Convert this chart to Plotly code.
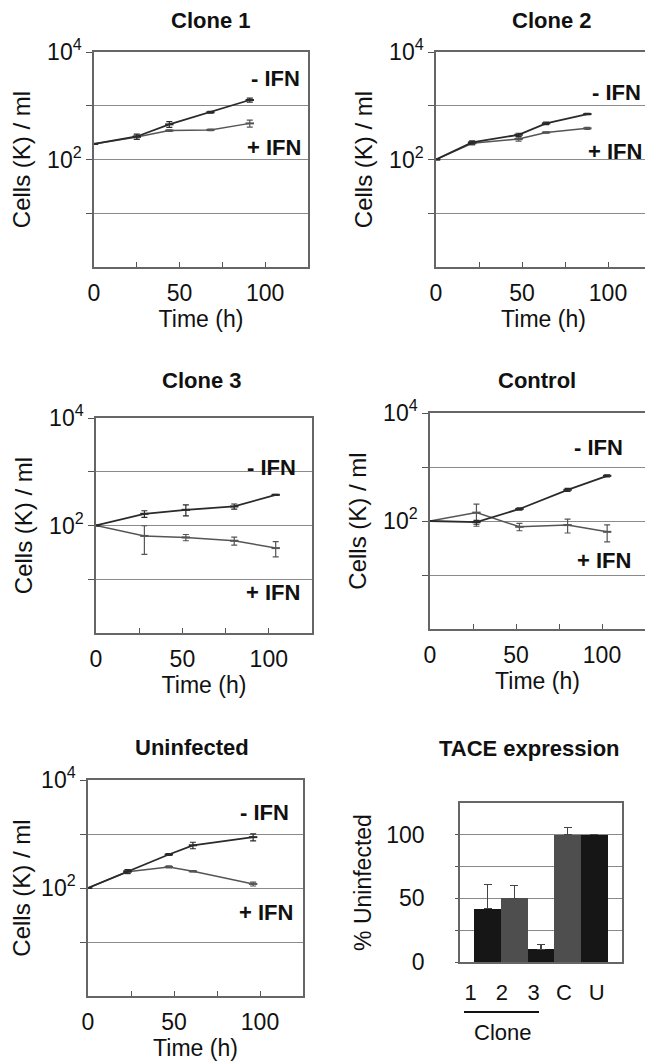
import plotly.graph_objects as go

# page body adds an 8px margin, so the figure is drawn 8px smaller and positions are offset
PAGE_W, PAGE_H = 653, 1061
OFF = 8
W, H = PAGE_W - OFF, PAGE_H - OFF

# ---------------- data ----------------
clone1_t = [0, 25, 44, 68, 91]
clone1_minus = [195, 268, 450, 755, 1280]
clone1_minus_err = [0, 30, 55, 30, 110]
clone1_plus = [195, 262, 345, 355, 470]
clone1_plus_err = [0, 25, 12, 12, 70]

clone2_t = [0, 21, 48, 64, 88]
clone2_minus = [100, 208, 288, 470, 700]
clone2_minus_err = [0, 14, 20, 25, 20]
clone2_plus = [100, 200, 240, 318, 380]
clone2_plus_err = [0, 14, 20, 10, 15]

clone3_t = [0, 28, 52, 80, 104]
clone3_minus = [100, 165, 196, 226, 372]
clone3_minus_err = [0, 23, 45, 25, 8]
clone3_plus = [100, 64, 60, 52, 38]
clone3_plus_err = [0, 35, 8, 9, 12]

control_t = [0, 27, 52, 80, 103]
control_minus = [100, 95, 167, 378, 687]
control_minus_err = [0, 8, 8, 25, 30]
control_plus = [100, 143, 78, 84, 63]
control_plus_err = [0, 63, 12, 24, 22]

uninf_t = [0, 23, 47, 61, 96]
uninf_minus = [100, 204, 417, 618, 875]
uninf_minus_err = [0, 15, 15, 85, 130]
uninf_plus = [100, 200, 246, 204, 119]
uninf_plus_err = [0, 15, 10, 5, 10]

tace_cats = ["1", "2", "3", "C", "U"]
tace_vals = [42, 50, 10, 100, 100]
tace_err = [19, 10, 4, 6, 0]

y_tickvals = [100, 10000]
y_ticktext = ["10<sup>2</sup>", "10<sup>4</sup>"]
y_gridvals = [10, 1000]
x_tickvals = [0, 50, 100]
x_ticktext = ["0", "50", "100"]

# ---------------- layout helpers ----------------
FONT = "Liberation Sans, Arial, sans-serif"
DARK = "#2a2a2a"
GREY = "#555555"


def px_x(v):
    return (v - OFF) / W


def px_y(v):
    return 1 - (v - OFF) / H


panels = [
    dict(title="Clone 1", t=clone1_t, m=clone1_minus, me=clone1_minus_err, p=clone1_plus, pe=clone1_plus_err,
         box=(94, 308, 52, 267), title_xy=(210, 20), minus_xy=(302, 78), plus_xy=(303, 148)),
    dict(title="Clone 2", t=clone2_t, m=clone2_minus, me=clone2_minus_err, p=clone2_plus, pe=clone2_plus_err,
         box=(436, 651, 52, 267), title_xy=(551, 20), minus_xy=(643, 92), plus_xy=(644, 152)),
    dict(title="Clone 3", t=clone3_t, m=clone3_minus, me=clone3_minus_err, p=clone3_plus, pe=clone3_plus_err,
         box=(96, 312, 418, 633), title_xy=(201, 381), minus_xy=(298, 467), plus_xy=(302, 592)),
    dict(title="Control", t=control_t, m=control_minus, me=control_minus_err, p=control_plus, pe=control_plus_err,
         box=(430, 645, 413, 629), title_xy=(537, 381), minus_xy=(625, 447), plus_xy=(633, 560)),
    dict(title="Uninfected", t=uninf_t, m=uninf_minus, me=uninf_minus_err, p=uninf_plus, pe=uninf_plus_err,
         box=(88, 303, 780, 996), title_xy=(192, 747), minus_xy=(291, 812), plus_xy=(295, 912)),
]

fig = go.Figure()
annotations = []
layout_axes = {}

for i, pn in enumerate(panels):
    n = i + 1
    xa = "x" if n == 1 else f"x{n}"
    ya = "y" if n == 1 else f"y{n}"
    for vals, errs, col, wid in ((pn["p"], pn["pe"], GREY, 1.5), (pn["m"], pn["me"], DARK, 1.8)):
        fig.add_trace(go.Scatter(
            x=pn["t"], y=vals, xaxis=xa, yaxis=ya, mode="lines+markers",
            line=dict(color=col, width=wid),
            marker=dict(symbol="line-ew", size=6, line=dict(color=col, width=2)),
            error_y=dict(type="data", array=errs, visible=True, color=col, thickness=1.2, width=3),
            showlegend=False, hoverinfo="skip"))
    x0, x1, y0, y1 = pn["box"]
    layout_axes["xaxis" if n == 1 else f"xaxis{n}"] = dict(
        domain=[px_x(x0), px_x(x1)], anchor=ya, range=[0, 125], automargin=False,
        tickmode="array", tickvals=x_tickvals, ticktext=x_ticktext,
        ticks="inside", ticklen=5, tickcolor=GREY, ticklabelstandoff=5,
        minor=dict(dtick=25, tick0=0, ticks="inside", ticklen=5, tickcolor=GREY),
        showgrid=False, zeroline=False, showline=True, mirror=True, linecolor="#666", linewidth=1.5,
        tickfont=dict(size=23, color="#111"),
        title=dict(text="Time (h)", font=dict(size=23, color="#111"), standoff=4),
    )
    layout_axes["yaxis" if n == 1 else f"yaxis{n}"] = dict(
        domain=[px_y(y1), px_y(y0)], anchor=xa, type="log", range=[0, 4], automargin=False,
        tickmode="array", tickvals=y_tickvals, ticktext=y_ticktext,
        ticks="outside", ticklen=6, tickcolor=GREY,
        minor=dict(tickmode="array", tickvals=y_gridvals, ticks="outside", ticklen=6, tickcolor=GREY,
                   showgrid=True, gridcolor="#8a8a8a", gridwidth=1.3),
        showgrid=True, gridcolor="#8a8a8a", gridwidth=1.3, zeroline=False,
        showline=True, mirror=True, linecolor="#666", linewidth=1.5,
        tickfont=dict(size=23, color="#111"),
        title=dict(text="Cells (K) / ml", font=dict(size=24, color="#111"), standoff=10),
    )
    tx, ty = pn["title_xy"]
    annotations.append(dict(text=f"<b>{pn['title']}</b>", x=px_x(tx), y=px_y(ty), xref="paper", yref="paper",
                            xanchor="center", yanchor="middle", showarrow=False, font=dict(size=22, color="#111")))
    mx, my = pn["minus_xy"]
    annotations.append(dict(text="<b>- IFN</b>", x=px_x(mx), y=px_y(my), xref="paper", yref="paper",
                            xanchor="right", yanchor="middle", showarrow=False, font=dict(size=22, color="#111")))
    qx, qy = pn["plus_xy"]
    annotations.append(dict(text="<b>+ IFN</b>", x=px_x(qx), y=px_y(qy), xref="paper", yref="paper",
                            xanchor="right", yanchor="middle", showarrow=False, font=dict(size=22, color="#111")))

# ---------------- TACE bar chart ----------------
tace_x = list(range(len(tace_cats)))
tace_colors = ["#161616", "#4e4e4e", "#161616", "#4e4e4e", "#161616"]
tace_label_pos = [-0.64, 0.53, 1.72, 2.86, 4.09]

fig.add_trace(go.Bar(
    x=tace_x, y=tace_vals, xaxis="x6", yaxis="y6", width=1.0,
    marker=dict(color=tace_colors, line=dict(width=0)),
    error_y=dict(type="data", symmetric=False, array=tace_err, arrayminus=[0] * len(tace_err),
                 visible=True, color="#444", thickness=1.2, width=4),
    showlegend=False, hoverinfo="skip"))

layout_axes["xaxis6"] = dict(
    domain=[px_x(460), px_x(622)], anchor="y6", range=[-1.04, 5.04], automargin=False,
    tickmode="array", tickvals=tace_label_pos, ticktext=tace_cats, ticks="",
    ticklabelstandoff=10, showgrid=False, zeroline=False,
    showline=True, mirror=True, linecolor="#666", linewidth=1.5,
    tickfont=dict(size=22, color="#111"),
)
layout_axes["yaxis6"] = dict(
    domain=[px_y(962), px_y(803)], anchor="x6", range=[0, 125], automargin=False,
    tickmode="array", tickvals=[0, 50, 100], ticktext=["0", "50", "100"],
    ticks="outside", ticklen=3, tickcolor=GREY, ticklabelstandoff=26,
    minor=dict(tickmode="array", tickvals=[25, 75], ticks="outside", ticklen=3, tickcolor=GREY,
               showgrid=True, gridcolor="#8a8a8a", gridwidth=1.3),
    showgrid=True, gridcolor="#8a8a8a", gridwidth=1.3, zeroline=False,
    showline=True, mirror=True, linecolor="#666", linewidth=1.5,
    tickfont=dict(size=23, color="#111"),
    title=dict(text="% Uninfected", font=dict(size=23, color="#111"), standoff=8),
)
annotations.append(dict(text="<b>TACE expression</b>", x=px_x(529), y=px_y(748), xref="paper", yref="paper",
                        xanchor="center", yanchor="middle", showarrow=False, font=dict(size=22, color="#111")))
annotations.append(dict(text="Clone", x=px_x(502), y=px_y(1032), xref="paper", yref="paper",
                        xanchor="center", yanchor="middle", showarrow=False, font=dict(size=22, color="#111")))

shapes = [dict(type="line", xref="paper", yref="paper", x0=px_x(464), x1=px_x(539),
               y0=px_y(1012), y1=px_y(1012), line=dict(color="#111", width=2))]

fig.update_layout(
    width=W, height=H, margin=dict(l=0, r=0, t=0, b=0, autoexpand=False),
    paper_bgcolor="white", plot_bgcolor="white",
    font=dict(family=FONT, size=23, color="#111"),
    annotations=annotations, shapes=shapes, bargap=0,
    **layout_axes,
)

fig.write_html("out.html")
